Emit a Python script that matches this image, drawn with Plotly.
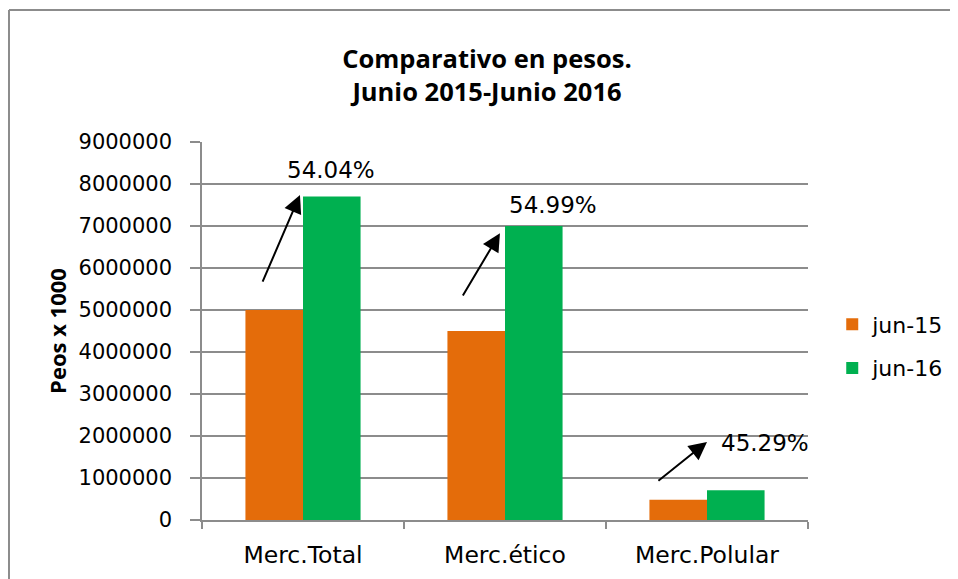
import plotly.graph_objects as go

categories = ["Merc.Total", "Merc.ético", "Merc.Polular"]
jun15 = [5000000, 4500000, 480000]
jun16 = [7700000, 7000000, 710000]
pct_labels = ["54.04%", "54.99%", "45.29%"]
y_ticks = [0, 1000000, 2000000, 3000000, 4000000, 5000000, 6000000, 7000000, 8000000, 9000000]

fig = go.Figure()
fig.add_trace(go.Bar(name="jun-15", x=categories, y=jun15, marker_color="#E46C0A",
                     marker_line_width=0, legendgroup="a"))
fig.add_trace(go.Bar(name="jun-16", x=categories, y=jun16, marker_color="#00B050",
                     marker_line_width=0, legendgroup="b"))

# arrows (positions relative to category index)
arrows = [
    dict(x=-0.015, y=7740000, ax=-0.203, ay=5640000),
    dict(x=0.975, y=6830000, ax=0.787, ay=5310000),
    dict(x=2.0, y=1860000, ax=1.752, ay=905000),
]
text_pos = [(0.139, 8330000), (1.238, 7500000), (2.287, 1830000)]

annotations = []
for a in arrows:
    annotations.append(dict(x=a["x"], y=a["y"], ax=a["ax"], ay=a["ay"], xref="x", yref="y",
                            axref="x", ayref="y", showarrow=True, arrowhead=2, arrowsize=1.8,
                            arrowwidth=2, arrowcolor="black", text=""))
for (tx, ty), lab in zip(text_pos, pct_labels):
    annotations.append(dict(x=tx, y=ty, xref="x", yref="y", text=lab, showarrow=False,
                            font=dict(family="DejaVu Sans", size=23, color="black")))

fig.update_layout(
    width=958, height=579,
    margin=dict(l=194, r=158, t=134, b=67),
    paper_bgcolor="white", plot_bgcolor="white",
    title=dict(text="<b>Comparativo en pesos.<br>Junio 2015-Junio 2016</b>",
               x=0.5, xanchor="center", y=0.896, yanchor="middle",
               font=dict(family="Open Sans", size=25.5, color="black")),
    barmode="group", bargap=0.43, bargroupgap=0,
    font=dict(family="DejaVu Sans", size=19, color="black"),
    legend=dict(x=1.040, y=0.459, xanchor="left", yanchor="middle",
                font=dict(family="DejaVu Sans", size=22), tracegroupgap=12,
                itemwidth=30),
    annotations=annotations,
    showlegend=True,
)
fig.update_xaxes(showline=True, linecolor="#8c8c8c", linewidth=1.5, ticks="outside",
                 tickson="boundaries", ticklen=7, tickcolor="#8c8c8c", tickwidth=1.5,
                 ticklabelstandoff=13,
                 tickfont=dict(family="DejaVu Sans", size=23.5), range=[-0.5, 2.5])
fig.update_yaxes(range=[0, 9000000], tickvals=y_ticks, ticktext=[str(v) for v in y_ticks],
                 showgrid=True, gridcolor="#8c8c8c", gridwidth=1.5,
                 showline=True, linecolor="#8c8c8c", linewidth=1.5,
                 ticks="outside", ticklen=10, tickcolor="#8c8c8c", tickwidth=1.5,
                 ticklabelstandoff=14,
                 tickfont=dict(family="DejaVu Sans", size=21),
                 title=dict(text="<b>Peos x 1000</b>", font=dict(family="Open Sans", size=22),
                            standoff=6))

# chart-area frame (left and top edges; right/bottom lie outside the picture)
fig.add_shape(type="line", xref="paper", yref="paper", x0=-0.3185, y0=-0.25, x1=-0.3185, y1=1.349,
              line=dict(color="#8c8c8c", width=2), layer="below")
fig.add_shape(type="line", xref="paper", yref="paper", x0=-0.3185, y0=1.349, x1=1.4, y1=1.349,
              line=dict(color="#8c8c8c", width=2), layer="below")

fig.write_html("out.html")
